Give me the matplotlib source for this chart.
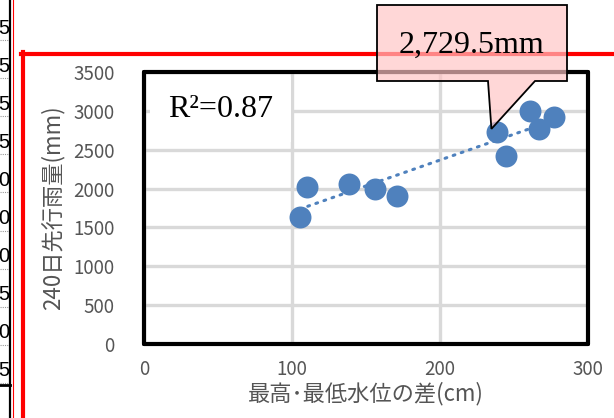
import numpy as np
import matplotlib
matplotlib.use('Agg')
import matplotlib.pyplot as plt
from matplotlib.patches import Polygon
from matplotlib.lines import Line2D

# data
level_diff = [105.2, 109.8, 138.7, 156.1, 170.9, 238.8, 244.9, 260.7, 266.6, 276.8]
rain_240 = [1632, 2017, 2060, 1996, 1910, 2729.5, 2423, 3000, 2765, 2927]
callout_idx = 5
callout_text = '2,729.5mm'
r2_text = 'R²=0.87'
x_ticks = [0, 100, 200, 300]
y_ticks = [0, 500, 1000, 1500, 2000, 2500, 3000, 3500]
x_label = '最高･最低水位の差(cm)'
y_label = '240日先行雨量(mm)'
# fragments of the neighbouring sheet column, cut off at the left edge
side_digits = ['5', '5', '5', '5', '0', '0', '0', '5', '0', '5']

W, H = 614, 418
JP = ['Noto Sans CJK JP', 'DejaVu Sans']
SERIF = ['Liberation Serif', 'DejaVu Serif']
BLUE = '#4f81bd'
GRAY = '#555555'


def fx(x, y):
    # pixel (from top-left) -> figure fraction
    return (x / W, 1 - y / H)


fig = plt.figure(figsize=(W / 100, H / 100), dpi=100)

ax = fig.add_axes([144 / W, 1 - 344 / H, (588 - 144) / W, (344 - 72) / H])
ax.set_xlim(0, 300)
ax.set_ylim(0, 3500)
ax.set_xticks(x_ticks)
ax.set_yticks(y_ticks)
ax.grid(True, color='#d9d9d9', linewidth=2.4)
ax.set_axisbelow(True)
ax.tick_params(length=0, labelsize=13.5, labelcolor=GRAY)
ax.tick_params(axis='y', pad=21)
ax.tick_params(axis='x', pad=11)
for lab in ax.get_xticklabels() + ax.get_yticklabels():
    lab.set_fontfamily(JP)
for sp in ax.spines.values():
    sp.set_linewidth(3)
    sp.set_color('black')
    sp.set_capstyle('round')

ax.set_xlabel(x_label, fontsize=16, color=GRAY, family=JP, labelpad=1)
ax.set_ylabel(y_label, fontsize=16, color=GRAY, family=JP, labelpad=6)

ax.scatter(level_diff, rain_240, s=250, color=BLUE, zorder=3, linewidths=0)

# linear trendline
coef = np.polyfit(level_diff, rain_240, 1)
xs = np.array([min(level_diff), max(level_diff)])
ax.plot(xs, np.polyval(coef, xs), color=BLUE, linewidth=2.2,
        linestyle=(0, (0.6, 2.2)), dash_capstyle='round', zorder=4)

ax.text(0.172, 0.862, r2_text, transform=ax.transAxes, ha='center', va='center',
        fontsize=23, family=SERIF, zorder=2,
        bbox=dict(facecolor='white', edgecolor='none', pad=13))

# callout box pointing at one point
tip_disp = ax.transData.transform((level_diff[callout_idx], rain_240[callout_idx]))
tip = fig.transFigure.inverted().transform(tip_disp + np.array([-6, 3]))
verts = [fx(377, 5), fx(567, 5), fx(567, 81), fx(535, 81), tuple(tip),
         fx(488, 81), fx(377, 81)]
fig.add_artist(Polygon(verts, closed=True, transform=fig.transFigure,
                       facecolor='#ffc4c4', alpha=0.68, edgecolor='none', zorder=10))
fig.add_artist(Polygon(verts, closed=True, transform=fig.transFigure,
                       facecolor='none', edgecolor='black', linewidth=1.3, zorder=11))
fig.text(*fx(472, 45), callout_text, ha='center', va='center', fontsize=23,
         family=SERIF, zorder=12)

# surrounding sheet decorations
fig.add_artist(Line2D([21 / W, 1], [1 - 54 / H] * 2, transform=fig.transFigure,
                      color='#ff0000', linewidth=3, zorder=5))
fig.add_artist(Line2D([23 / W] * 2, [1 - 52 / H, 0], transform=fig.transFigure,
                      color='#ff0000', linewidth=3, zorder=5))
fig.add_artist(Line2D([10.3 / W] * 2, [0, 1], transform=fig.transFigure,
                      color='black', linewidth=1.6, zorder=5))
fig.add_artist(Line2D([12.5 / W] * 2, [0, 1], transform=fig.transFigure,
                      color='#ff0000', linewidth=0.8, zorder=5))
fig.add_artist(Line2D([0, 10.3 / W], [1 - 385 / H] * 2, transform=fig.transFigure,
                      color='black', linewidth=2, zorder=5))
for k, d in enumerate(side_digits):
    yc = 28 + k * 38.1
    fig.text(*fx(9.4, yc), d, ha='right', va='center', fontsize=14.5,
             family=['Liberation Sans'], color='black')
    fig.add_artist(Line2D([0, 9 / W], [1 - (yc + 12) / H] * 2,
                          transform=fig.transFigure, color='#9a9a9a',
                          linewidth=0.8, linestyle=(0, (1, 1))))

fig.savefig('out.png', dpi=100)
